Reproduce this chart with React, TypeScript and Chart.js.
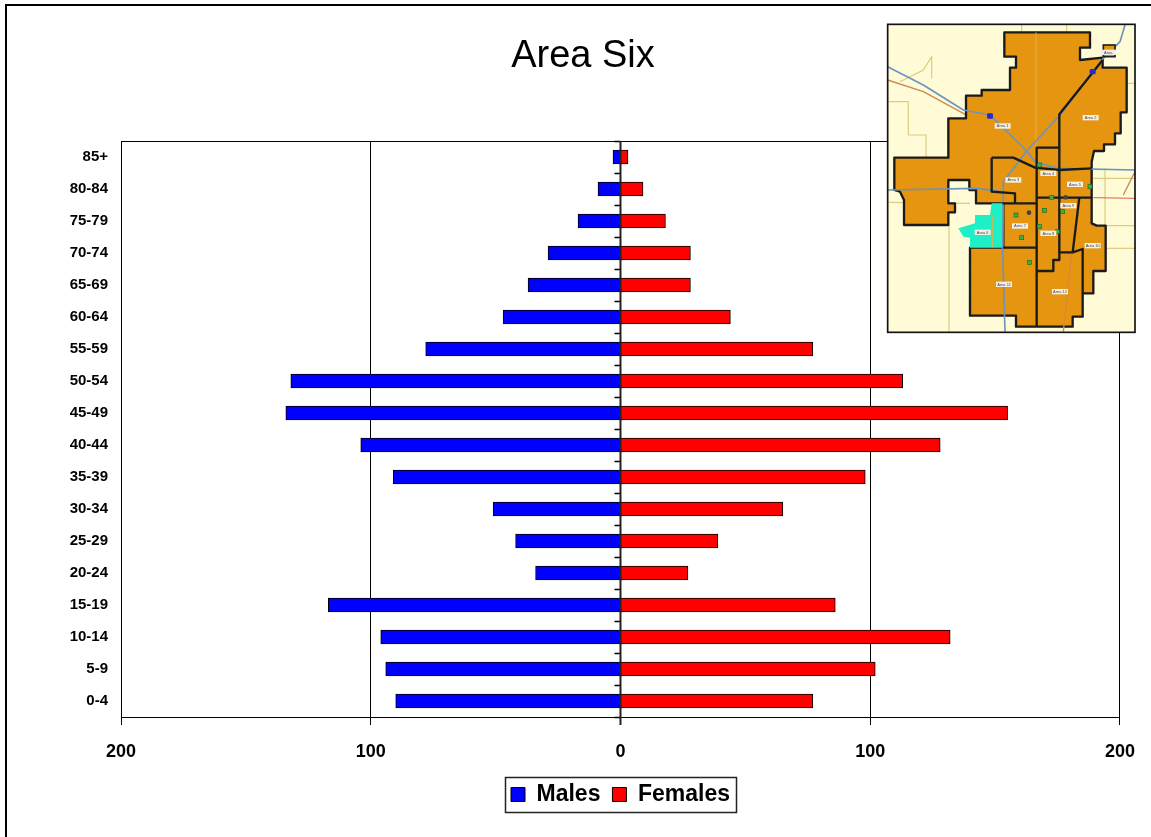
import React, { useEffect, useRef } from "react";
import { Chart, registerables } from "chart.js";

Chart.register(...registerables);

const ageGroups = ["85+","80-84","75-79","70-74","65-69","60-64","55-59","50-54","45-49","40-44","35-39","30-34","25-29","20-24","15-19","10-14","5-9","0-4"];
const males = [-3,-9,-17,-29,-37,-47,-78,-132,-134,-104,-91,-51,-42,-34,-117,-96,-94,-90];
const females = [3,9,18,28,28,44,77,113,155,128,98,65,39,27,86,132,102,77];
const titleText = "Area Six";
const FONT = '"Liberation Sans", Arial, sans-serif';

const framePlugin = {
  id: "frame",
  beforeDraw(chart: any) {
    const { ctx, legend } = chart;
    ctx.save();
    ctx.fillStyle = "#fff";
    ctx.fillRect(0, 0, chart.width, chart.height);
    ctx.strokeStyle = "#000";
    ctx.lineWidth = 2;
    ctx.beginPath();
    ctx.moveTo(6, chart.height);
    ctx.lineTo(6, 5);
    ctx.lineTo(chart.width, 5);
    ctx.stroke();
    const hb = legend.legendHitBoxes;
    if (hb && hb.length) {
      const l = Math.min(...hb.map((b: any) => b.left));
      const r = Math.max(...hb.map((b: any) => b.left + b.width));
      const t = hb[0].top;
      const h = hb[0].height;
      const cy = t + h / 2;
      ctx.lineWidth = 1.5;
      ctx.strokeStyle = "#222";
      ctx.strokeRect(Math.round(l - 6) + 0.5, Math.round(cy - 17.5) + 0.5, Math.round(r - l + 12), 35);
    }
    ctx.restore();
  },
  afterDatasetsDraw(chart: any) {
    const { ctx, chartArea, scales } = chart;
    const x0 = scales.x.getPixelForValue(0);
    ctx.save();
    ctx.strokeStyle = "#000";
    ctx.lineWidth = 1;
    ctx.beginPath();
    ctx.moveTo(chartArea.left, chartArea.top + 0.5);
    ctx.lineTo(chartArea.right, chartArea.top + 0.5);
    ctx.stroke();
    const step = (chartArea.bottom - chartArea.top) / ageGroups.length;
    ctx.lineWidth = 1.5;
    ctx.beginPath();
    for (let i = 0; i <= ageGroups.length; i++) {
      const y = Math.round(chartArea.top + step * i) + 0.5;
      ctx.moveTo(x0 - 6, y);
      ctx.lineTo(x0, y);
    }
    ctx.stroke();
    ctx.strokeStyle = "#222";
    ctx.lineWidth = 2;
    ctx.beginPath();
    ctx.moveTo(x0, chartArea.top);
    ctx.lineTo(x0, chartArea.bottom + 8);
    ctx.stroke();
    ctx.restore();
  },
};

const outline = "373,52 630,52 630,98 600,98 600,135 668,128 668,158 740,158 740,292 722,292 722,355 705,355 705,388 672,388 672,408 642,408 635,440 635,625 650,632 677,632 677,768 640,768 640,835 608,835 608,905 578,905 578,935 408,935 408,902 270,902 270,698 370,698 370,565 288,565 288,525 268,525 268,495 205,495 205,565 225,565 225,592 205,592 205,630 72,630 72,555 60,530 43,525 43,428 205,428 205,310 258,310 258,242 305,242 305,225 390,225 390,158 408,158 408,125 373,125";
const teal = "335,565 370,565 370,698 270,698 270,668 250,665 235,640 285,625 285,600 330,600";
const inner = [
  "668,135 538,298 538,735 520,735 520,768 470,768",
  "470,935 470,398 538,398",
  "335,428 400,428 465,458 538,465 635,460",
  "335,428 335,530 405,535 405,565 370,565 470,565",
  "470,548 635,548",
  "370,698 470,698",
  "598,548 578,712 538,712",
  "578,712 608,702 608,835",
];
const blueRoads = [
  "23,155 130,210 250,285 330,300 440,408 465,440 530,460 765,465",
  "735,30 720,80 670,130 540,300 440,408 370,500 368,700 375,950",
  "23,525 290,520 400,535",
];
const tanRoads = [
  "25,260 85,260 85,360 138,360 138,428",
  "60,200 130,165 155,125 155,190",
  "425,28 425,52", "560,28 560,52",
  "207,630 207,950", "25,562 270,565",
  "675,460 675,700", "640,490 765,490", "740,205 765,205",
  "640,632 765,632", "677,700 765,700",
  "337,600 337,698", "468,52 468,398",
];
const brownRoads = ["23,195 130,230 250,295 440,410", "765,470 730,540", "575,712 550,950"];
const redRoads = ["640,548 765,550"];
const areaLabels: [string, number, number][] = [
  ["Area 1",368,333],["Area 2",632,308],["Area 3",400,495],["Area 4",505,475],["Area 5",585,508],
  ["Area 6",308,652],["Area 7",420,633],["Area 8",505,655],["Area 9",565,572],["Area 10",638,692],
  ["Area 11",372,808],["Area 12",540,830],["Area",685,112],
];
const sites: [number, number][] = [[478,450],[515,547],[408,600],[493,586],[548,590],[478,635],[425,668],[448,742],[630,515],[532,650]];
const shields: [number, number][] = [[330,303],[638,170]];

function poly(points: string[], color: string, w: number) {
  return points.map((p, i) => <polyline key={color + i} points={p} fill="none" stroke={color} strokeWidth={w} strokeLinejoin="round" />);
}

function InsetMap() {
  return (
    <svg viewBox="0 0 795 975" width={265} height={325} style={{ position: "absolute", left: 880, top: 15, filter: "blur(0.35px)" }}>
      <rect x="23" y="28" width="742" height="924" fill="#FFFBD6" />
      {poly(tanRoads.slice(0, 11), "#DCCB7C", 3.5)}
      {poly(brownRoads.slice(0, 2), "#C98A55", 4)}
      <polygon points={outline} fill="#E5950F" stroke="#1a1a1a" strokeWidth="7" strokeLinejoin="round" />
      <polygon points={teal} fill="#1FEFC6" />
      {poly(tanRoads.slice(11), "#E3B04A", 3)}
      {poly(brownRoads.slice(2), "#D98A35", 4)}
      {poly(redRoads, "#D9634A", 3)}
      {poly(blueRoads, "#6C94BE", 5)}
      {poly(inner, "#1a1a1a", 7)}
      <rect x="670" y="90" width="35" height="35" fill="#E5950F" stroke="#222" strokeWidth="5" />
      {sites.map(([x, y], i) => <rect key={i} x={x - 6} y={y - 6} width="12" height="12" fill="#3CB043" stroke="#1F6B22" strokeWidth="2" />)}
      {shields.map(([x, y], i) => <rect key={i} x={x - 9} y={y - 8} width="18" height="16" rx="4" fill="#2A2AC8" />)}
      <circle cx="447" cy="593" r="7" fill="#444" />
      <circle cx="557" cy="547" r="7" fill="#444" />
      {areaLabels.map(([t, x, y]) => (
        <g key={t}>
          <rect x={x - 24} y={y - 8} width="48" height="16" fill="#F4EFE6" />
          <text x={x} y={y + 4} textAnchor="middle" fontSize="12" fontFamily={FONT} fill="#444">{t}</text>
        </g>
      ))}
      <rect x="23" y="28" width="742" height="924" fill="none" stroke="#111" strokeWidth="5" />
    </svg>
  );
}

export default function App() {
  const ref = useRef<HTMLCanvasElement>(null);
  useEffect(() => {
    const chart = new Chart(ref.current!, {
      type: "bar",
      data: {
        labels: ageGroups,
        datasets: [
          { label: "Males", data: males, backgroundColor: "#0000FF", borderColor: "#000", borderWidth: 1, barThickness: 14 },
          { label: "Females", data: females, backgroundColor: "#FF0000", borderColor: "#000", borderWidth: 1, barThickness: 14 },
        ],
      },
      options: {
        indexAxis: "y",
        responsive: false,
        animation: false,
        layout: { padding: { left: 46, right: 31, top: 0, bottom: 21 } },
        plugins: {
          title: {
            display: true,
            text: titleText,
            color: "#000",
            font: { family: FONT, size: 38, weight: "normal", lineHeight: 1.2 },
            padding: { top: 34, bottom: 61.4 },
          },
          legend: {
            position: "bottom",
            fullSize: false,
            labels: {
              boxWidth: 14,
              boxHeight: 14,
              padding: 12,
              color: "#000",
              font: { family: FONT, size: 23, weight: "bold" },
            },
          },
          tooltip: { enabled: false },
        },
        scales: {
          x: {
            stacked: true,
            min: -200,
            max: 200,
            ticks: {
              stepSize: 100,
              maxRotation: 0,
              padding: 16,
              color: "#000",
              font: { family: FONT, size: 18, weight: "bold" },
              callback: (v: any) => String(Math.abs(v)),
            },
            grid: { color: "#000", lineWidth: 1, tickLength: 8, tickColor: "#000" },
            border: { color: "#000", width: 1 },
            afterFit: (s: any) => { s.height = 54; },
          },
          y: {
            stacked: true,
            grid: { display: false, drawTicks: false },
            border: { display: false },
            ticks: {
              autoSkip: false,
              padding: 13,
              color: "#000",
              font: { family: FONT, size: 15, weight: "bold" },
            },
            afterFit: (s: any) => { s.width = 75; },
          },
        },
      },
      plugins: [framePlugin],
    } as any);
    return () => chart.destroy();
  }, []);
  return (
    <div style={{ position: "absolute", left: 0, top: 0, width: 1151, height: 837, overflow: "hidden" }}>
      <canvas ref={ref} width={1151} height={837} style={{ display: "block" }} />
      <InsetMap />
    </div>
  );
}
